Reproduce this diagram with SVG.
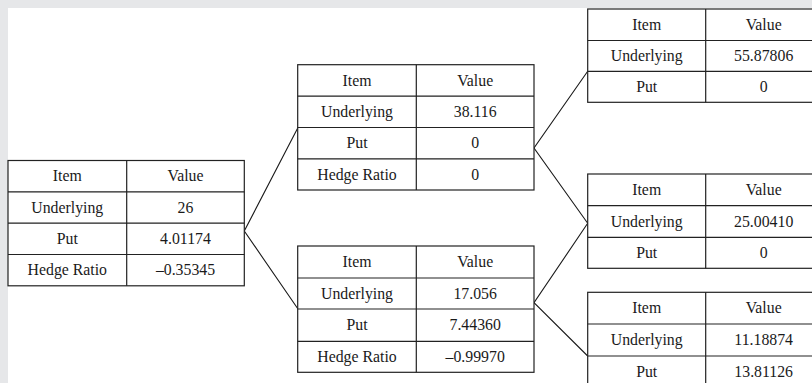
<svg xmlns="http://www.w3.org/2000/svg" width="812" height="383" viewBox="0 0 812 383">
<style>
.cell{fill:#fff;stroke:#222;stroke-width:1.2}
.ln{stroke:#222;stroke-width:1.2;fill:none}
text{font-family:'Liberation Serif','DejaVu Serif',serif;font-size:15.8px;fill:#1a1a1a;text-anchor:middle}
.conn{stroke:#1a1a1a;stroke-width:1.1;fill:none}
</style>
<rect x="0" y="0" width="812" height="383" fill="#e6e7e9"/>
<rect x="8" y="8" width="804" height="375" fill="#fff"/>

<g id="connectors">
<polyline class="conn" points="298,127.5 244.3,231 298,309"/>
<polyline class="conn" points="587.7,71.3 534,148 587.7,223.3"/>
<polyline class="conn" points="587.7,223.3 534,302.7 587.7,356"/>
</g>

<g id="root">
<rect class="cell" x="8" y="160.5" width="236.3" height="125.3"/>
<path class="ln" d="M8 191.8H244.3M8 223.2H244.3M8 254.5H244.3M126.7 160.5V285.8"/>
<text x="67.3" y="181.4">Item</text><text x="185.5" y="181.4">Value</text>
<text x="67.3" y="212.7">Underlying</text><text x="185.5" y="212.7">26</text>
<text x="67.3" y="244">Put</text><text x="185.5" y="244">4.01174</text>
<text x="67.3" y="275.4">Hedge Ratio</text><text x="185.5" y="275.4">–0.35345</text>
</g>

<g id="up">
<rect class="cell" x="297.7" y="64.7" width="236.3" height="125.3"/>
<path class="ln" d="M297.7 96.2H534M297.7 127.5H534M297.7 158.8H534M416.3 64.7V190"/>
<text x="357" y="85.6">Item</text><text x="475.2" y="85.6">Value</text>
<text x="357" y="116.9">Underlying</text><text x="475.2" y="116.9">38.116</text>
<text x="357" y="148.2">Put</text><text x="475.2" y="148.2">0</text>
<text x="357" y="179.6">Hedge Ratio</text><text x="475.2" y="179.6">0</text>
</g>

<g id="down">
<rect class="cell" x="297.7" y="246" width="236.3" height="126.3"/>
<path class="ln" d="M297.7 278H534M297.7 309H534M297.7 341.3H534M416.3 246V372.3"/>
<text x="357" y="267.2">Item</text><text x="475.2" y="267.2">Value</text>
<text x="357" y="298.7">Underlying</text><text x="475.2" y="298.7">17.056</text>
<text x="357" y="330.4">Put</text><text x="475.2" y="330.4">7.44360</text>
<text x="357" y="362">Hedge Ratio</text><text x="475.2" y="362">–0.99970</text>
</g>

<g id="upup">
<rect class="cell" x="587.7" y="9" width="234" height="93.3"/>
<path class="ln" d="M587.7 40.5H821.7M587.7 71.3H821.7M705.7 9V102.3"/>
<text x="646.7" y="30">Item</text><text x="763.7" y="30">Value</text>
<text x="646.7" y="61.2">Underlying</text><text x="763.7" y="61.2">55.87806</text>
<text x="646.7" y="92">Put</text><text x="763.7" y="92">0</text>
</g>

<g id="updown">
<rect class="cell" x="587.7" y="174" width="234" height="94.3"/>
<path class="ln" d="M587.7 205.7H821.7M587.7 237.3H821.7M705.7 174V268.3"/>
<text x="646.7" y="195.1">Item</text><text x="763.7" y="195.1">Value</text>
<text x="646.7" y="226.7">Underlying</text><text x="763.7" y="226.7">25.00410</text>
<text x="646.7" y="258">Put</text><text x="763.7" y="258">0</text>
</g>

<g id="downdown">
<rect class="cell" x="587.7" y="292.3" width="234" height="95.2"/>
<path class="ln" d="M587.7 324H821.7M587.7 356H821.7M705.7 292.3V387.5"/>
<text x="646.7" y="313.4">Item</text><text x="763.7" y="313.4">Value</text>
<text x="646.7" y="345.2">Underlying</text><text x="763.7" y="345.2">11.18874</text>
<text x="646.7" y="377">Put</text><text x="763.7" y="377">13.81126</text>
</g>
</svg>
